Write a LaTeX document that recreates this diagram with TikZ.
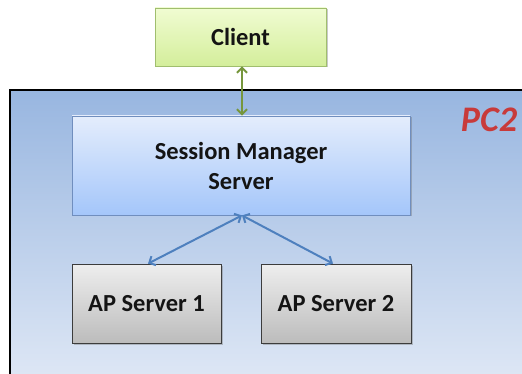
\documentclass[tikz,border=0pt]{standalone}
\usepackage{fontspec}
\setmainfont{Carlito}
\usetikzlibrary{shadows,arrows.meta}

\definecolor{regiontop}{RGB}{152,182,224}
\definecolor{regionbot}{RGB}{222,231,245}
\definecolor{smtop}{RGB}{228,237,252}
\definecolor{smbot}{RGB}{164,198,250}
\definecolor{smedge}{RGB}{112,142,190}
\definecolor{clienttop}{RGB}{240,252,210}
\definecolor{clientbot}{RGB}{212,238,155}
\definecolor{clientedge}{RGB}{160,190,110}
\definecolor{aptop}{RGB}{238,238,238}
\definecolor{apbot}{RGB}{188,188,188}
\definecolor{apedge}{RGB}{60,60,60}
\definecolor{linkblue}{RGB}{78,128,190}
\definecolor{linkgreen}{RGB}{118,150,60}
\definecolor{pcred}{RGB}{200,58,58}

\tikzset{
  boxshadow/.style={drop shadow={opacity=0.35, shadow xshift=1.5pt, shadow yshift=-1.5pt, fill=black!60}},
  labeltext/.style={font=\fontsize{24.5}{30}\selectfont\bfseries, text=black!92, align=center},
  clientbox/.style={rectangle, draw=clientedge, line width=0.8pt, top color=clienttop, bottom color=clientbot, boxshadow, labeltext},
  smbox/.style={rectangle, draw=smedge, line width=0.8pt, top color=smtop, bottom color=smbot, boxshadow, labeltext},
  apbox/.style={rectangle, draw=apedge, line width=0.8pt, top color=aptop, bottom color=apbot, boxshadow, labeltext},
  biarrow/.style={{Straight Barb[length=5pt,width=10pt]}-{Straight Barb[length=5pt,width=10pt]}, line width=2pt}
}

\begin{document}
\begin{tikzpicture}[x=1pt,y=-1pt]
  \useasboundingbox (0,0) rectangle (522,374);
  \fill[white] (0,0) rectangle (522,374);

  % machine region PC2
  \begin{scope}
    \clip (0,0) rectangle (522,374);
    \shade[top color=regiontop, bottom color=regionbot] (10,90) rectangle (530,380);
    \draw[black, line width=2pt] (10,380) -- (10,90) -- (530,90);
  \end{scope}
  \node[font=\fontsize{36}{36}\selectfont\bfseries\itshape, text=pcred] (pc) at (489,120) {PC2};

  % boxes
  \node[clientbox, minimum width=171pt, minimum height=58pt] (client) at (240.5,37) {Client};
  \node[smbox, minimum width=338pt, minimum height=99pt] (sm) at (241,165.5) {Session Manager\\Server};
  \node[apbox, minimum width=149pt, minimum height=79pt] (ap1) at (146.5,303.5) {AP Server 1};
  \node[apbox, minimum width=150pt, minimum height=79pt] (ap2) at (336,303.5) {AP Server 2};

  % links
  \draw[biarrow, linkgreen] (client.south -| 242,0) -- (sm.north -| 242,0);
  \coordinate (smfoot) at (sm.south -| 242,0);
  \draw[biarrow, linkblue] (smfoot) -- (ap1.north -| 148,0);
  \draw[biarrow, linkblue] (smfoot) -- (ap2.north -| 333,0);
\end{tikzpicture}
\end{document}
